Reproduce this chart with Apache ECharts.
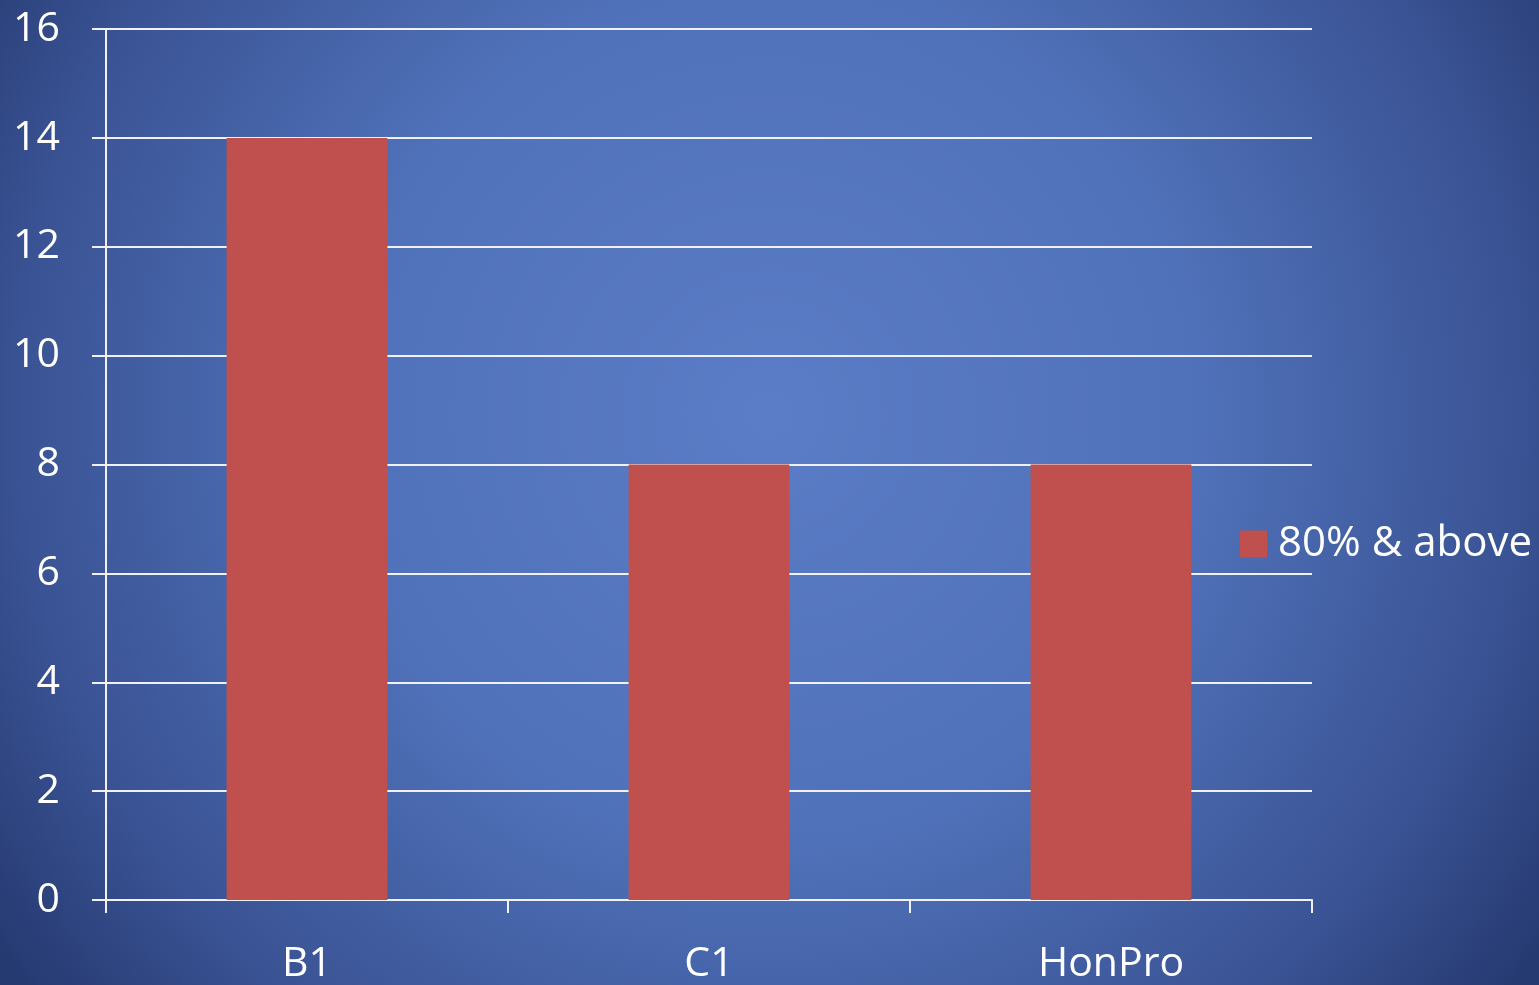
<!DOCTYPE html>
<html>
<head>
<meta charset="utf-8">
<script src="https://cdn.jsdelivr.net/npm/echarts@6/dist/echarts.min.js"></script>
<style>html,body{margin:0;padding:0;}#c{width:1539px;height:985px;}</style>
</head>
<body>
<div id="c"></div>
<script>
const categories = ['B1', 'C1', 'HonPro'];
const seriesName = '80% & above';
const values = [14, 8, 8];
const yMin = 0, yMax = 16, yInterval = 2;

const chart = echarts.init(document.getElementById('c'));
const font = '"Open Sans", "DejaVu Sans", sans-serif';
chart.setOption({
  animation: false,
  backgroundColor: {
    type: 'radial', x: 0.5, y: 0.42, r: 0.95,
    colorStops: [
      { offset: 0, color: '#5b7cc6' },
      { offset: 0.45, color: '#5072ba' },
      { offset: 0.8, color: '#3a5394' },
      { offset: 1, color: '#263a72' }
    ]
  },
  grid: { left: 106, right: 227, top: 29, bottom: 83, containLabel: false },
  legend: {
    orient: 'vertical', left: 1240, top: 523, padding: 0,
    itemWidth: 27, itemHeight: 27, itemGap: 10,
    icon: 'rect',
    textStyle: { color: '#ffffff', fontSize: 42, fontFamily: font, padding: [0, 0, 0, 6] },
    data: [seriesName]
  },
  xAxis: {
    type: 'category', data: categories,
    axisLine: { show: true, lineStyle: { color: '#f0f0f5', width: 2 } },
    axisTick: { show: true, length: 13, alignWithLabel: false, lineStyle: { color: '#f0f0f5', width: 2 } },
    axisLabel: { color: '#ffffff', fontSize: 41, fontFamily: font, margin: 44 },
    splitLine: { show: false }
  },
  yAxis: {
    type: 'value', min: yMin, max: yMax, interval: yInterval,
    axisLine: { show: true, lineStyle: { color: '#f0f0f5', width: 2 } },
    axisTick: { show: true, length: 14, lineStyle: { color: '#f0f0f5', width: 2 } },
    axisLabel: { color: '#ffffff', fontSize: 41, fontFamily: font, margin: 46 },
    splitLine: { show: true, lineStyle: { color: '#f0f0f5', width: 2 } }
  },
  series: [{
    name: seriesName, type: 'bar', data: values,
    barWidth: '40%',
    itemStyle: { color: '#c0504d' },
    z: 3
  }]
});
</script>
</body>
</html>
